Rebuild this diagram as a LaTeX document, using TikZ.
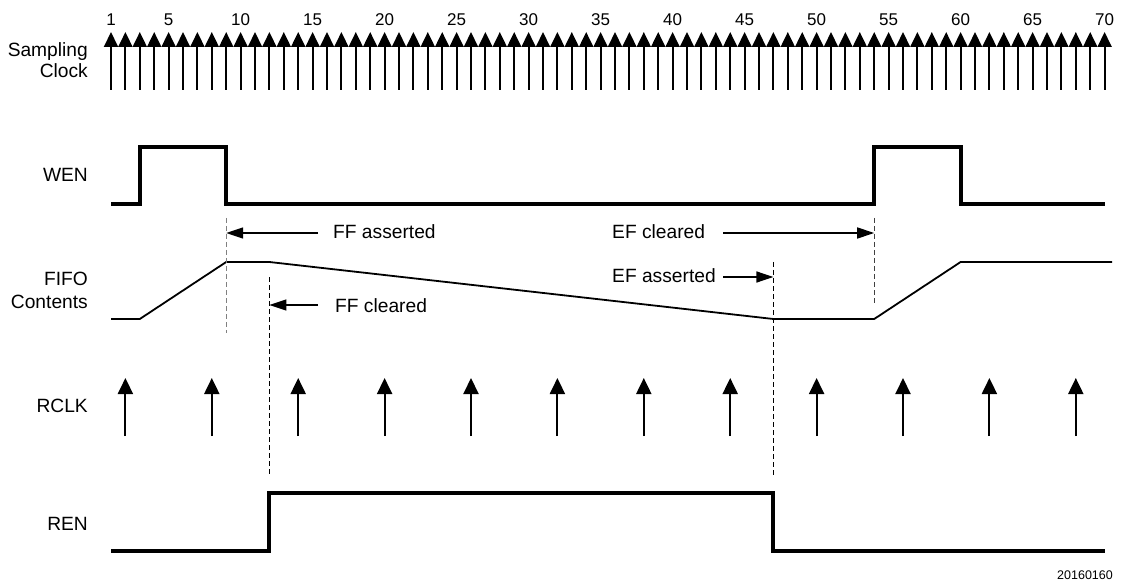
\documentclass[tikz,border=0pt]{standalone}
\usepackage{fontspec}
\setmainfont{Liberation Sans}
\usetikzlibrary{arrows.meta}

\begin{document}
\begin{tikzpicture}[x=1pt, y=-1pt,
    >={Triangle[length=17pt,width=11pt]},
    signal/.style={line width=4pt},
    level/.style={line width=1.8pt, line join=miter},
    marker/.style={line width=1pt, dash pattern=on 5pt off 3pt},
    signame/.style={anchor=base east, inner sep=0pt, font=\fontsize{19.2}{22}\selectfont},
    flagnote/.style={anchor=base west, inner sep=0pt, font=\fontsize{19.2}{22}\selectfont}]
    \useasboundingbox (0,0) rectangle (1121,585);

    % Time points (sampling clock edges)
    \coordinate (t3) at (139.8,0);
    \coordinate (t9) at (226.2,0);
    \coordinate (t12) at (269.4,0);
    \coordinate (t47) at (773.4,0);
    \coordinate (t54) at (874.2,0);
    \coordinate (t60) at (960.6,0);

    % Signal names
    \node[signame] (samp) at (88,57) {Sampling};
    \node[signame] (clk) at (88,78) {Clock};
    \node[signame] (wen) at (88,182) {WEN};
    \node[signame] (fifo) at (88,286) {FIFO};
    \node[signame] (cont) at (88,308) {Contents};
    \node[signame] (rclk) at (88,412) {RCLK};
    \node[signame] (ren) at (88,530) {REN};

    % Sampling clock with edge numbers
    \foreach \n in {1,...,70} {
        \pgfmathsetmacro{\x}{111+(\n-1)*14.4}
        \draw[-{Triangle[length=15pt,width=14pt]}, line width=2pt] (\x,90) -- (\x,32);
    }
    \foreach \n in {1,5,10,...,70} {
        \pgfmathsetmacro{\x}{111+(\n-1)*14.4}
        \node[anchor=base, inner sep=0pt, font=\fontsize{17}{19}\selectfont] (n\n) at (\x,26) {\n};
    }

    % WEN
    \draw[signal] (111,204) -- (139.8,204) -- (139.8,147) -- (226.2,147) -- (226.2,204)
        -- (874.2,204) -- (874.2,147) -- (960.6,147) -- (960.6,204) -- (1104.6,204);

    % FIFO contents
    \draw[level] (111,319) -- (139.8,319) -- (226.2,262) -- (269.4,262) -- (773.4,319)
        -- (874.2,319) -- (960.6,262) -- (1112,262);

    % RCLK, one edge every 6 samples
    \foreach \k in {0,...,11} {
        \pgfmathsetmacro{\x}{125.4+\k*86.4}
        \draw[-{Triangle[length=16pt,width=15pt]}, line width=2pt] (\x,436) -- (\x,378);
    }

    % REN
    \draw[signal] (111,551) -- (269.4,551) -- (269.4,493) -- (773.4,493) -- (773.4,551)
        -- (1104.6,551);

    % Dashed markers
    \draw[marker, gray] (t9 |- 0,218) -- (t9 |- 0,333);
    \draw[marker] (t12 |- 0,277) -- (t12 |- 0,476);
    \draw[marker] (t47 |- 0,262) -- (t47 |- 0,476);
    \draw[marker, black!75] (t54 |- 0,218) -- (t54 |- 0,305);

    % Flag annotations
    \node[flagnote] (ffasrt) at (333,239) {FF asserted};
    \node[flagnote] (ffclr) at (335,312) {FF cleared};
    \node[flagnote] (efclr) at (612,239) {EF cleared};
    \node[flagnote] (efasrt) at (612,282) {EF asserted};

    \draw[->, line width=1.5pt] (318,233) -- (t9 |- 0,233);
    \draw[->, line width=1.5pt] (318,305) -- (t12 |- 0,305);
    \draw[->, line width=1.5pt] (723,233) -- (t54 |- 0,233);
    \draw[->, line width=1.5pt] (723,277) -- (t47 |- 0,277);

    % Figure number
    \node[anchor=base east, inner sep=0pt, font=\fontsize{12.5}{14}\selectfont] (fig) at (1113,579) {20160160};
\end{tikzpicture}
\end{document}
